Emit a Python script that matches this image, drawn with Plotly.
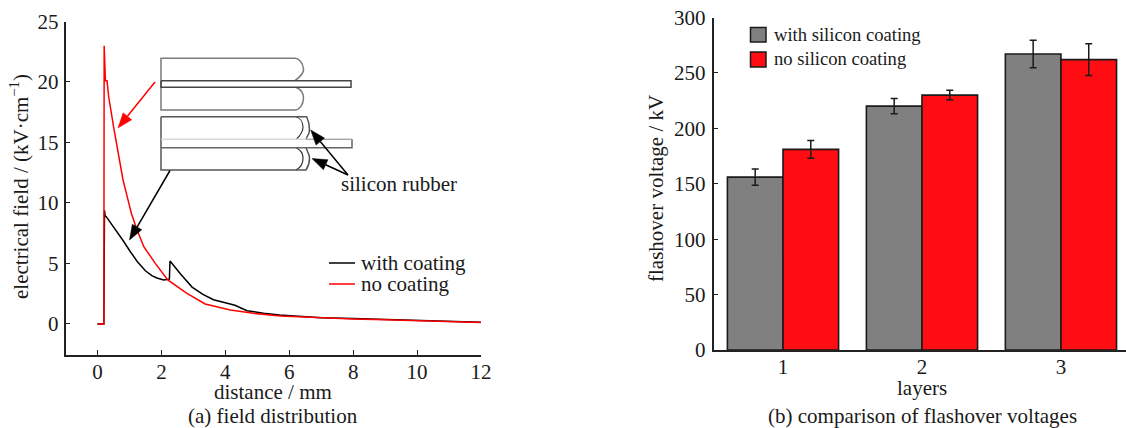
import math
import plotly.graph_objects as go

# ---------- data: panel (a) ----------
coat_x = [0, 0.19, 0.2, 0.22, 0.24, 0.28, 0.4, 0.56, 0.8, 1.03, 1.25, 1.5, 1.7, 1.86, 2.07, 2.25, 2.27, 2.6, 2.96, 3.3, 3.63, 4.0, 4.3, 4.68, 5.2, 5.7, 6, 7, 8, 9, 10, 11, 12]
coat_y = [0, 0, 0, 9.4, 8.95, 8.85, 8.4, 7.9, 6.9, 5.97, 5.15, 4.4, 4.0, 3.8, 3.63, 3.7, 5.2, 4.13, 3.05, 2.45, 2.0, 1.75, 1.55, 1.1, 0.88, 0.75, 0.7, 0.52, 0.45, 0.36, 0.3, 0.22, 0.15]
none_x = [0, 0.19, 0.2, 0.21, 0.25, 0.3, 0.35, 0.51, 0.8, 0.93, 1.06, 1.24, 1.45, 1.81, 2.2, 2.8, 3.37, 4.16, 4.88, 5.72, 6.5, 8, 9, 10, 11, 12]
none_y = [0, 0, 0, 23, 20.1, 20.1, 18.8, 16.2, 11.9, 10.52, 9.15, 7.77, 6.39, 5.01, 3.64, 2.53, 1.65, 1.16, 0.88, 0.66, 0.56, 0.42, 0.34, 0.27, 0.22, 0.13]
x_ticks_a = [0, 2, 4, 6, 8, 10, 12]
y_ticks_a = [0, 5, 10, 15, 20, 25]

# ---------- data: panel (b) ----------
layers = [1, 2, 3]
with_coating = [156, 220, 267]
with_err = [7.3, 6.9, 12.4]
no_coating = [181, 230, 262]
no_err = [8, 4.3, 14.4]
y_ticks_b = [0, 50, 100, 150, 200, 250, 300]

W, H = 1126, 428
FONT = "Liberation Serif"
RED = "#ff0d12"
GRAY = "#808080"
INK = "#1a1a1a"

def px(x): return x / W
def py(y): return 1 - y / H

def path(points, color, width=1.5, fill=None, close=False):
    d = ""
    for p in points:
        if p[0] == "C":
            d += " C {},{} {},{} {},{}".format(px(p[1]), py(p[2]), px(p[3]), py(p[4]), px(p[5]), py(p[6]))
        else:
            d += (" L " if d else "M ") + "{},{}".format(px(p[0]), py(p[1]))
    if close:
        d += " Z"
    s = dict(type="path", path=d, xref="paper", yref="paper",
             line=dict(color=color, width=width))
    if fill:
        s["fillcolor"] = fill
    return s

def arrow(x0, y0, x1, y1, color):
    a = math.atan2(y1 - y0, x1 - x0)
    L, w = 15, 5.5
    bx, by = x1 - L * math.cos(a), y1 - L * math.sin(a)
    nx, ny = -math.sin(a), math.cos(a)
    return [path([(x0, y0), (bx, by)], color, 1.5),
            path([(x1, y1), (bx + w * nx, by + w * ny), (bx - w * nx, by - w * ny)],
                 color, 0.5, fill=color, close=True)]

shapes = []
# upper electrode sketch
G1, D1 = "#7a7a7a", "#444444"
shapes += [
    path([(295, 80.7), ("C", 301, 76, 304, 73, 303.5, 69), ("C", 303, 62, 298, 58.3, 295, 58.3),
          (161, 58.3), (161, 110), (295, 110),
          ("C", 299, 110, 303.5, 105, 303.5, 98), ("C", 303.5, 93, 300, 89, 296, 87.3)], G1, 1.5),
    path([(161, 80.7), (351, 80.7), (351, 87.3), (161, 87.3), (161, 80.7)], D1, 1.5),
]
# lower electrode sketch with coating
shapes += [
    path([(296, 139.5), ("C", 301, 135, 303, 131, 303, 127), ("C", 303, 122, 300, 118, 296, 116.8)], "#333333", 1.2),
    path([(296, 147.7), ("C", 301, 150, 303, 154, 303, 158), ("C", 303, 164, 300, 168, 296, 170)], "#333333", 1.2),
    path([(161, 116.7), (306.7, 116.7), ("C", 309, 122, 310, 128, 309, 133), (306, 139)], "#555555", 1.5),
    path([(161, 116.7), (161, 170), (306, 170), ("C", 309, 165, 310, 159, 309, 155), (306, 147.7)], "#555555", 1.5),
    path([(161, 139.3), (352, 139.3)], "#d8d8d8", 1.5),
    path([(161, 147.7), (352, 147.7), (352, 139.3)], "#666666", 1.5),
    path([(352, 139.3), (306, 139.3)], "#999999", 1),
]
shapes += arrow(155, 82, 118, 128, "#ff0000")
shapes += arrow(170, 170.5, 129.5, 240, "#000000")
shapes += arrow(348, 175, 310.7, 130, "#000000")
shapes += arrow(348, 175, 312, 158.5, "#000000")
# legend (a)
shapes.append(path([(329, 263), (355, 263)], "#000000", 1.5))
shapes.append(path([(329, 284), (355, 284)], "#ff0000", 1.5))
# legend (b)
shapes.append(path([(750.5, 27.5), (766, 27.5), (766, 42), (750.5, 42)], "#1a1a1a", 1.5, fill=GRAY, close=True))
shapes.append(path([(750.5, 52), (766, 52), (766, 67), (750.5, 67)], "#1a1a1a", 1.5, fill=RED, close=True))

def label(x, y, text, size=21, anchor="left", angle=0):
    return dict(x=px(x), y=py(y), xref="paper", yref="paper", text=text, showarrow=False,
                xanchor=anchor, yanchor="middle", textangle=angle,
                font=dict(family=FONT, size=size, color=INK))

annotations = [
    label(339, 184, "silicon rubber"),
    label(359, 263, "with coating"),
    label(359, 284, "no coating"),
    label(273, 392, "distance / mm", anchor="center"),
    label(273, 416, "(a) field distribution", anchor="center"),
    label(19, 187, "electrical field / (kV·cm<sup>−1</sup>)", 21, "center", -90),
    label(772, 34.5, "with silicon coating", 18.6),
    label(772, 59, "no silicon coating", 18.6),
    label(922, 388, "layers", anchor="center"),
    label(922, 416, "(b) comparison of flashover voltages", anchor="center"),
    label(656, 189, "flashover voltage / kV", 21, "center", -90),
]

fig = go.Figure()
fig.add_trace(go.Scatter(x=coat_x, y=coat_y, mode="lines", line=dict(color="#000000", width=1.5), xaxis="x", yaxis="y"))
fig.add_trace(go.Scatter(x=none_x, y=none_y, mode="lines", line=dict(color="#ff0000", width=1.5), xaxis="x", yaxis="y"))
err = dict(type="data", thickness=1.5, width=3.5, color="#1a1a1a")
fig.add_trace(go.Bar(x=layers, y=with_coating, error_y=dict(array=with_err, **err),
                     marker=dict(color=GRAY, line=dict(color="#1a1a1a", width=1.6)),
                     xaxis="x2", yaxis="y2", width=0.4, offset=-0.4))
fig.add_trace(go.Bar(x=layers, y=no_coating, error_y=dict(array=no_err, **err),
                     marker=dict(color=RED, line=dict(color="#1a1a1a", width=1.6)),
                     xaxis="x2", yaxis="y2", width=0.4, offset=0))

tick = dict(ticks="inside", ticklen=5, tickwidth=1.2, tickcolor="#222222", showline=True,
            linecolor="#222222", linewidth=1.5, showgrid=False, zeroline=False, automargin=False,
            tickfont=dict(family=FONT, size=21, color=INK))
fig.update_layout(
    template="none",
    width=W, height=H, margin=dict(l=0, r=0, t=0, b=0, pad=0), showlegend=False,
    paper_bgcolor="white", plot_bgcolor="white", shapes=shapes, annotations=annotations,
    barmode="overlay",
    xaxis=dict(domain=[px(65.5), px(481)], range=[-1, 12], tickvals=x_ticks_a, anchor="y", ticklabelstandoff=-3, **tick),
    yaxis=dict(domain=[py(354.7), py(21.5)], range=[-2.54, 25], tickvals=y_ticks_a, anchor="x", ticklabelstandoff=1, **tick),
    xaxis2=dict(domain=[px(713.5), 1], range=[0.5, 3.468], tickvals=layers, anchor="y2", ticklabelstandoff=-3,
                **{**tick, "ticks": "", "ticklen": 0}),
    yaxis2=dict(domain=[py(350), py(17.5)], range=[0, 300], tickvals=y_ticks_b, anchor="x2", ticklabelstandoff=2, **tick),
)
fig.write_html("out.html", config={"displayModeBar": False},
               post_script="document.body.style.margin='0';document.body.style.overflow='hidden';")
